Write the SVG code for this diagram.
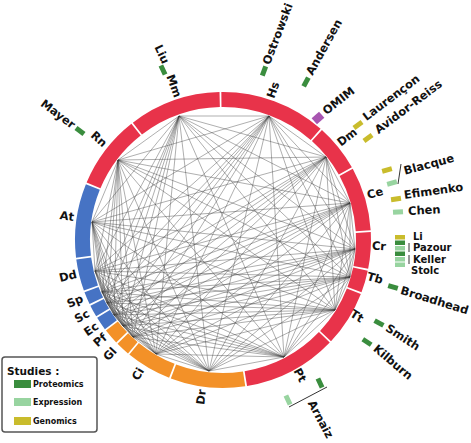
<svg xmlns="http://www.w3.org/2000/svg" width="471" height="443" viewBox="0 0 471 443">
<style>
.seg{fill:none;stroke-width:15;stroke-linecap:butt}
.red{stroke:#E8334A}.blue{stroke:#4673C4}.orange{stroke:#F39128}
.lab{font-family:"DejaVu Sans","Liberation Sans",sans-serif;font-weight:bold;font-size:11.5px;fill:#111;dominant-baseline:central}
.sm{font-size:10px}
.sp{text-anchor:middle}
.st{text-anchor:start}
.en{text-anchor:end}
.pg{fill:#3A8D3E}.eg{fill:#98D4A0}.gy{fill:#C9BC2C}.om{fill:#A855B0}
.bar{stroke:#333;stroke-width:1;fill:none}
.leg{font-family:"DejaVu Sans","Liberation Sans",sans-serif;font-weight:bold;fill:#111;dominant-baseline:central}
</style>
<rect width="471" height="443" fill="#fff"/>
<g id="connectors" stroke="#3a3a3a" stroke-width="0.55" stroke-opacity="0.75" fill="none">
<path d="M179,116L269,116M179,116L326,157M179,116L350,203M179,116L355,249M179,116L350,277M179,116L335,310M179,116L284,357M179,116L209,371M179,116L156,354M179,116L133,337M179,116L123,326M179,116L114,315M179,116L107,303M179,116L102,292M179,116L95,271M179,116L92,222M179,116L118,160"/>
<path d="M269,116L326,157M269,116L350,203M269,116L355,249M269,116L350,277M269,116L335,310M269,116L284,357M269,116L209,371M269,116L156,354M269,116L133,337M269,116L123,326M269,116L114,315M269,116L107,303M269,116L102,292M269,116L95,271M269,116L92,222M269,116L118,160"/>
<path d="M326,157L350,203M326,157L355,249M326,157L350,277M326,157L335,310M326,157L284,357M326,157L209,371M326,157L156,354M326,157L133,337M326,157L123,326M326,157L114,315M326,157L107,303M326,157L102,292M326,157L95,271M326,157L92,222M326,157L118,160"/>
<path d="M350,203L355,249M350,203L350,277M350,203L335,310M350,203L284,357M350,203L209,371M350,203L156,354M350,203L133,337M350,203L123,326M350,203L114,315M350,203L107,303M350,203L102,292M350,203L95,271M350,203L92,222M350,203L118,160"/>
<path d="M355,249L350,277M355,249L335,310M355,249L284,357M355,249L209,371M355,249L156,354M355,249L133,337M355,249L123,326M355,249L114,315M355,249L107,303M355,249L102,292M355,249L95,271M355,249L92,222M355,249L118,160"/>
<path d="M350,277L335,310M350,277L284,357M350,277L209,371M350,277L156,354M350,277L133,337M350,277L123,326M350,277L114,315M350,277L107,303M350,277L102,292M350,277L95,271M350,277L92,222M350,277L118,160"/>
<path d="M335,310L284,357M335,310L209,371M335,310L156,354M335,310L133,337M335,310L123,326M335,310L114,315M335,310L107,303M335,310L102,292M335,310L95,271M335,310L92,222M335,310L118,160"/>
<path d="M284,357L209,371M284,357L156,354M284,357L133,337M284,357L123,326M284,357L114,315M284,357L107,303M284,357L102,292M284,357L95,271M284,357L92,222M284,357L118,160"/>
<path d="M209,371L156,354M209,371L133,337M209,371L123,326M209,371L114,315M209,371L107,303M209,371L102,292M209,371L95,271M209,371L92,222M209,371L118,160"/>
<path d="M156,354L133,337M156,354L123,326M156,354L114,315M156,354L107,303M156,354L102,292M156,354L95,271M156,354L92,222M156,354L118,160"/>
<path d="M133,337L123,326M133,337L114,315M133,337L107,303M133,337L102,292M133,337L95,271M133,337L92,222M133,337L118,160"/>
<path d="M123,326L114,315M123,326L107,303M123,326L102,292M123,326L95,271M123,326L92,222M123,326L118,160"/>
<path d="M114,315L107,303M114,315L102,292M114,315L95,271M114,315L92,222M114,315L118,160"/>
<path d="M107,303L102,292M107,303L95,271M107,303L92,222M107,303L118,160"/>
<path d="M102,292L95,271M102,292L92,222M102,292L118,160"/>
<path d="M95,271L92,222M95,271L118,160"/>
<path d="M92,222L118,160"/>
</g>
<g id="node-Mm">
<path class="seg red" d="M137.39,128.60A140.5,140.5 0 0 1 219.69,99.54"/>
<text class="lab sp" transform="translate(174,86) rotate(70)">Mm</text>
<rect class="pg" x="-5" y="-2.5" width="10" height="5" transform="translate(163,70) rotate(65)"/>
<text class="lab en" transform="translate(166,63) rotate(65)">Liu</text>
</g>
<g id="node-Hs">
<path class="seg red" d="M221.41,99.51A140.5,140.5 0 0 1 315.63,134.37"/>
<text class="lab sp" transform="translate(273,90) rotate(-70)">Hs</text>
<rect class="pg" x="-5" y="-2.5" width="10" height="5" transform="translate(264,71) rotate(-70)"/>
<text class="lab st" transform="translate(266,64) rotate(-69)" font-size="10">Ostrowski</text>
<rect class="pg" x="-5" y="-2.5" width="10" height="5" transform="translate(306,82) rotate(-62)"/>
<text class="lab st" transform="translate(309,74) rotate(-61)">Andersen</text>
<rect class="om" x="-5" y="-4" width="10" height="8" transform="translate(318,118) rotate(-42)"/>
<text class="lab st" transform="translate(324,112) rotate(-38)">OMIM</text>
</g>
<g id="node-Dm">
<path class="seg red" d="M316.93,135.51A140.5,140.5 0 0 1 345.35,170.92"/>
<text class="lab sp" transform="translate(347,137) rotate(-38)">Dm</text>
<rect class="gy" x="-5" y="-2.5" width="10" height="5" transform="translate(358,125) rotate(-36)"/>
<text class="lab st" transform="translate(364,118) rotate(-37)">Laurençon</text>
<rect class="gy" x="-5" y="-2.5" width="10" height="5" transform="translate(368,138) rotate(-36)"/>
<text class="lab st" transform="translate(376,131) rotate(-37)">Avidor-Reiss</text>
</g>
<g id="node-Ce">
<path class="seg red" d="M346.18,172.42A140.5,140.5 0 0 1 363.20,230.81"/>
<text class="lab sp" transform="translate(375,193) rotate(-16)">Ce</text>
<rect class="gy" x="-5" y="-2.5" width="10" height="5" transform="translate(387,170) rotate(-15)"/>
<rect class="eg" x="-5" y="-2.5" width="10" height="5" transform="translate(392,183) rotate(-15)"/>
<path class="bar" d="M401,164L398,184"/>
<text class="lab st" transform="translate(404,171) rotate(-15)">Blacque</text>
<rect class="gy" x="-5" y="-2.5" width="10" height="5" transform="translate(396,199) rotate(-8)"/>
<text class="lab st" transform="translate(404,195) rotate(-8)">Efimenko</text>
<rect class="eg" x="-5" y="-2.5" width="10" height="5" transform="translate(398,212) rotate(-3)"/>
<text class="lab st" transform="translate(408,211) rotate(-3)">Chen</text>
</g>
<g id="node-Cr">
<path class="seg red" d="M363.30,232.52A140.5,140.5 0 0 1 360.80,267.41"/>
<text class="lab sp" transform="translate(379,246) rotate(4)">Cr</text>
<rect class="gy" x="395" y="235" width="10" height="4.5"/>
<rect class="pg" x="395" y="240.5" width="10" height="4.5"/>
<rect class="eg" x="395" y="246" width="10" height="4.5"/>
<rect class="pg" x="395" y="251.5" width="10" height="4.5"/>
<rect class="eg" x="395" y="257" width="10" height="4.5"/>
<rect class="eg" x="395" y="262.5" width="10" height="4.5"/>
<path class="bar" d="M409,243V252M409,255V264"/>
<text class="lab st sm" x="413" y="236">Li</text>
<text class="lab st sm" x="413" y="247.5">Pazour</text>
<text class="lab st sm" x="413" y="259">Keller</text>
<text class="lab st sm" x="411" y="270.5">Stolc</text>
</g>
<g id="node-Tb">
<path class="seg red" d="M360.46,269.09A140.5,140.5 0 0 1 354.48,289.55"/>
<text class="lab sp" transform="translate(375,278) rotate(16)">Tb</text>
<rect class="pg" x="-5" y="-2.5" width="10" height="5" transform="translate(393,287) rotate(17)"/>
<text class="lab st" transform="translate(401,290) rotate(17)">Broadhead</text>
</g>
<g id="node-Tt">
<path class="seg red" d="M353.86,291.15A140.5,140.5 0 0 1 325.53,336.06"/>
<text class="lab sp" transform="translate(357,316) rotate(32)">Tt</text>
<rect class="pg" x="-5" y="-2.5" width="10" height="5" transform="translate(379,323) rotate(28)"/>
<text class="lab st" transform="translate(387,327) rotate(33)">Smith</text>
<rect class="pg" x="-5" y="-2.5" width="10" height="5" transform="translate(367,342) rotate(33)"/>
<text class="lab st" transform="translate(375,347) rotate(40)">Kilburn</text>
</g>
<g id="node-Pt">
<path class="seg red" d="M324.35,337.30A140.5,140.5 0 0 1 245.83,378.63"/>
<text class="lab sp" transform="translate(300,375) rotate(62)">Pt</text>
<rect class="pg" x="-5" y="-2.5" width="10" height="5" transform="translate(320,383) rotate(65)"/>
<rect class="eg" x="-5" y="-2.5" width="10" height="5" transform="translate(288,400) rotate(65)"/>
<path class="bar" d="M289,407L327,387"/>
<text class="lab st" transform="translate(311,401) rotate(62)" font-size="9.5">Arnaiz</text>
</g>
<g id="node-Dr">
<path class="seg orange" d="M244.13,378.90A140.5,140.5 0 0 1 173.45,371.47"/>
<text class="lab sp" transform="translate(201,397) rotate(-84)">Dr</text>
</g>
<g id="node-Ci">
<path class="seg orange" d="M171.85,370.86A140.5,140.5 0 0 1 134.09,348.79"/>
<text class="lab sp" transform="translate(138,374) rotate(-60)">Ci</text>
</g>
<g id="node-Gl">
<path class="seg orange" d="M132.82,347.74A140.5,140.5 0 0 1 122.86,338.55"/>
<text class="lab sp" transform="translate(110,354) rotate(-47)">Gl</text>
</g>
<g id="node-Pf">
<path class="seg orange" d="M121.65,337.30A140.5,140.5 0 0 1 111.91,326.02"/>
<text class="lab sp" transform="translate(100,340) rotate(-41)">Pf</text>
</g>
<g id="node-Ec">
<path class="seg blue" d="M110.86,324.65A140.5,140.5 0 0 1 103.53,313.93"/>
<text class="lab sp" transform="translate(91,329) rotate(-34)">Ec</text>
</g>
<g id="node-Sc">
<path class="seg blue" d="M102.64,312.49A140.5,140.5 0 0 1 97.10,302.36"/>
<text class="lab sp" transform="translate(82,316) rotate(-29)">Sc</text>
</g>
<g id="node-Sp">
<path class="seg blue" d="M96.34,300.82A140.5,140.5 0 0 1 91.53,289.55"/>
<text class="lab sp" transform="translate(75,301) rotate(-23)">Sp</text>
</g>
<g id="node-Dd">
<path class="seg blue" d="M90.94,287.94A140.5,140.5 0 0 1 83.72,258.46"/>
<text class="lab sp" transform="translate(68,276) rotate(-14)">Dd</text>
</g>
<g id="node-At">
<path class="seg blue" d="M83.50,256.76A140.5,140.5 0 0 1 92.87,187.03"/>
<text class="lab sp" transform="translate(67,216) rotate(8)">At</text>
</g>
<g id="node-Rn">
<path class="seg red" d="M93.53,185.44A140.5,140.5 0 0 1 136.02,129.66"/>
<text class="lab sp" transform="translate(99,139) rotate(42)">Rn</text>
<rect class="pg" x="-5" y="-2.5" width="10" height="5" transform="translate(80,131) rotate(37)"/>
<text class="lab en" transform="translate(74,126) rotate(37)">Mayer</text>
</g>
<g id="legend">
<rect x="2" y="357" width="95" height="75" rx="3" fill="#fff" stroke="#555" stroke-width="1.5"/>
<text class="leg" x="7" y="371" font-size="10.5">Studies :</text>
<rect class="pg" x="14" y="380" width="17" height="8"/>
<text class="leg" x="33" y="384.5" font-size="8">Proteomics</text>
<rect class="eg" x="14" y="398" width="17" height="8"/>
<text class="leg" x="33" y="402.5" font-size="8">Expression</text>
<rect class="gy" x="14" y="417" width="17" height="8"/>
<text class="leg" x="33" y="421" font-size="8">Genomics</text>
</g>
</svg>
